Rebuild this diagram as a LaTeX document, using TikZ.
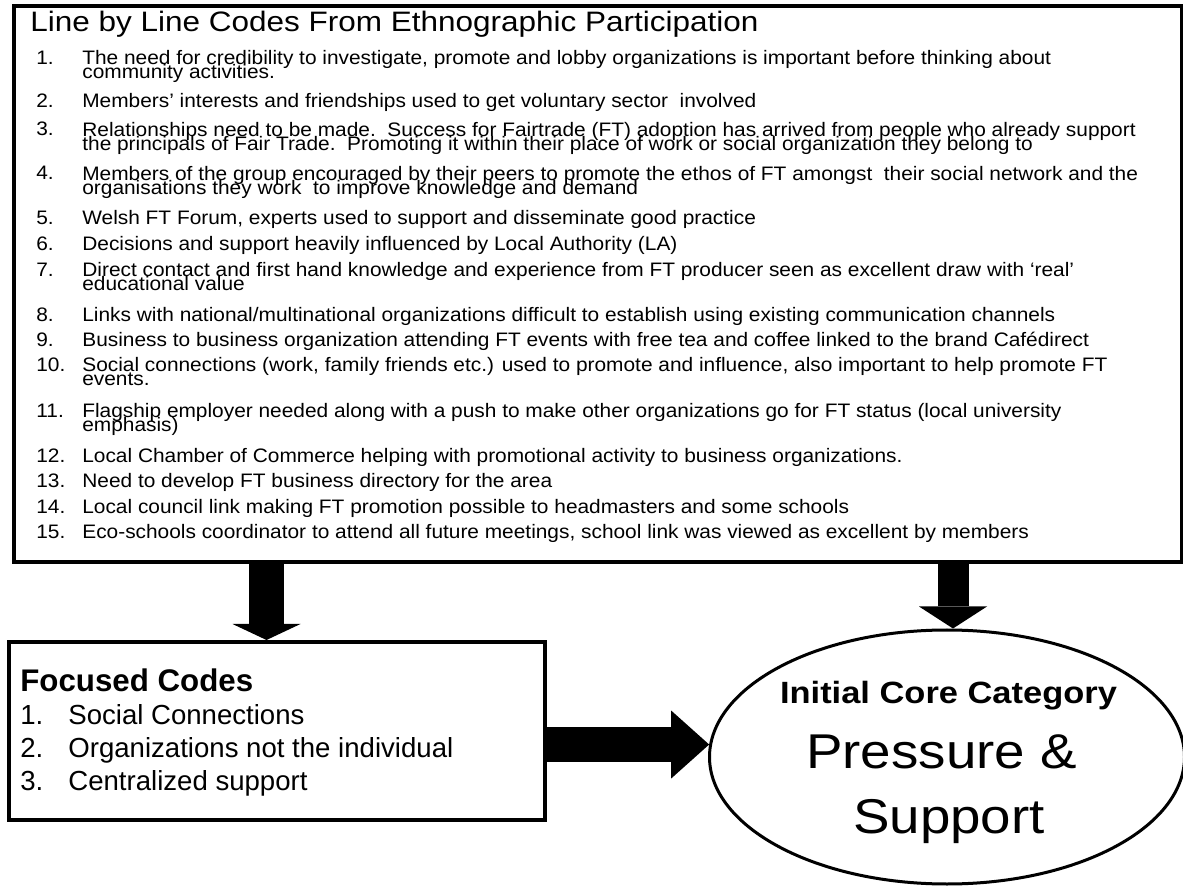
\documentclass[tikz,border=0pt]{standalone}
\usepackage{fontspec}
\setmainfont{Liberation Sans}
\newfontfamily\codefont[Ligatures=TeX, FakeStretch=1.07]{Liberation Sans}
\newfontfamily\widefont[Ligatures=TeX, FakeStretch=1.12]{Liberation Sans}
\usetikzlibrary{shapes.geometric,arrows.meta,positioning}

\tikzset{
	codebox/.style={draw, rectangle, line width=0.08cm, inner sep=0pt, anchor=north west},
	itemnum/.style={anchor=base west, inner sep=0pt, font=\codefont\fontsize{11.1}{8.1}\selectfont},
	itemtxt/.style={anchor=base west, inner sep=0pt, align=left, font={\codefont\fontsize{11.1}{8.1}\selectfont\lineskiplimit-20pt}},
	bignum/.style={anchor=base west, inner sep=0pt, font=\fontsize{15.7}{18}\selectfont},
	bigarrow/.style={line width=0.7cm, -{Triangle[length=#1, width=1.36cm, line width=0pt]}},
	bigarrow/.default=0.34cm
}

\begin{document}
\begin{tikzpicture}
	\useasboundingbox (0,0) rectangle (23.66,-17.76);
	% line by line codes
	\node[codebox, minimum width=23.36cm, minimum height=11.12cm] (lines) at (0.24,-0.08) {};
	\node[anchor=base west, inner sep=0pt, font=\widefont\fontsize{16}{19}\selectfont] (title) at (0.6,-0.64)
		{Line by Line Codes From Ethnographic Participation};
	% first baseline / last baseline / text
	\foreach \y/\yb/\txt [count=\i] in {
		1.29/1.575/{The need for credibility to investigate, promote and lobby organizations is important before thinking about\\community activities.},
		2.16/2.16/{Members' interests and friendships used to get voluntary sector\ \ involved},
		2.72/3.005/{Relationships need to be made.\ \ Success for Fairtrade (FT) adoption has arrived from people who already support\\the principals of Fair Trade.\ \ Promoting it within their place of work or social organization they belong to},
		3.60/3.885/{Members of the group encouraged by their peers to promote the ethos of FT amongst\ \ their social network and the\\organisations they work\ \ to improve knowledge and demand},
		4.50/4.50/{Welsh FT Forum, experts used to support and disseminate good practice},
		5.01/5.01/{Decisions and support heavily influenced by Local Authority (LA)},
		5.53/5.815/{Direct contact and first hand knowledge and experience from FT producer seen as excellent draw with `real'\\educational value},
		6.43/6.43/{Links with national/multinational organizations difficult to establish using existing communication channels},
		6.93/6.93/{Business to business organization attending FT events with free tea and coffee linked to the brand Cafédirect},
		7.43/7.715/{Social connections (work, family friends etc.) used to promote and influence, also important to help promote FT\\events.},
		8.35/8.635/{Flagship employer needed along with a push to make other organizations go for FT status (local university\\emphasis)},
		9.25/9.25/{Local Chamber of Commerce helping with promotional activity to business organizations.},
		9.75/9.75/{Need to develop FT business directory for the area},
		10.27/10.27/{Local council link making FT promotion possible to headmasters and some schools},
		10.77/10.77/{Eco-schools coordinator to attend all future meetings, school link was viewed as excellent by members}}{
		\node[itemnum] (num\i) at (0.72,-\y) {\i.};
		\node[itemtxt] (code\i) at (1.64,-\yb) {\txt};
	}
	% focused codes
	\node[codebox, minimum width=10.72cm, minimum height=3.56cm] (focus) at (0.14,-12.8) {};
	\node[anchor=base west, inner sep=0pt, font=\bfseries\fontsize{17.8}{20}\selectfont] (ftitle) at (0.4,-13.82) {Focused Codes};
	\foreach \y/\txt [count=\i] in {14.48/Social Connections, 15.14/Organizations not the individual, 15.80/Centralized support}{
		\node[bignum] (fnum\i) at (0.4,-\y) {\i.};
		\node[bignum] (fcode\i) at (1.36,-\y) {\txt};
	}
	% core category
	\node[draw, ellipse, line width=0.06cm, inner sep=0pt, minimum width=9.5cm, minimum height=5.08cm] (core) at (18.94,-15.14) {};
	\node[anchor=base, inner sep=0pt, font=\widefont\bfseries\fontsize{17.5}{20}\selectfont] (ctitle) at (18.97,-14.06) {Initial Core Category};
	\node[anchor=base, inner sep=0pt, font=\widefont\fontsize{27.8}{32}\selectfont] (press) at (18.83,-15.36) {Pressure \&};
	\node[anchor=base, inner sep=0pt, font=\widefont\fontsize{27.8}{32}\selectfont] (supp) at (18.98,-16.66) {Support};
	% arrows
	\coordinate (tip1) at ([xshift=-0.21cm]focus.north);
	\coordinate (tip2) at ([xshift=0.12cm]core.north);
	\draw[bigarrow=0.32cm] (lines.south -| tip1) -- (tip1);
	\draw[bigarrow=0.44cm, line width=0.62cm] (lines.south -| tip2) -- (tip2);
	\draw[bigarrow=0.76cm] (focus.east |- core.177) -- (core.177);
\end{tikzpicture}
\end{document}
